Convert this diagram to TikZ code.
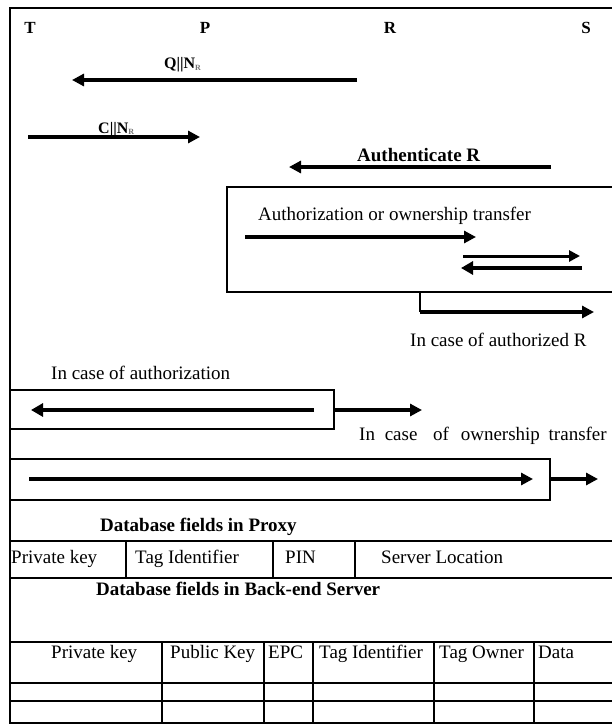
\documentclass[tikz,border=0pt]{standalone}
\usepackage{fontspec}
\setmainfont{Liberation Serif}
\usetikzlibrary{arrows.meta}
\newcommand\subR{\raisebox{-1.5pt}{\fontsize{8}{8}\selectfont\color{black!55}R}}
\begin{document}
\begin{tikzpicture}[x=1pt,y=-1pt,
  frameline/.style={line width=1.3pt,black},
  thinline/.style={line width=1.1pt,black},
  msg/.style={line width=3.4pt,-{Triangle[length=12pt,width=12pt]}},
  msgthin/.style={line width=3pt,-{Triangle[length=11pt,width=11pt]}},
  msgthick/.style={line width=4.4pt,-{Triangle[length=12pt,width=13pt]}},
  lbl/.style={inner sep=0pt,anchor=base west,font=\fontsize{19}{21}\selectfont},
  blbl/.style={inner sep=0pt,anchor=base west,font=\fontsize{19}{21}\selectfont\bfseries},
  party/.style={inner sep=0pt,anchor=base,font=\fontsize{17}{19}\selectfont\bfseries},
  nonce/.style={inner sep=0pt,anchor=base west,font=\fontsize{16}{18}\selectfont\bfseries}]
\useasboundingbox (0,0) rectangle (612,725);

% outer frame
\draw[frameline] (612,8) -- (10,8) -- (10,723) -- (612,723);

% parties
\node[party] (T) at (30,34) {T};
\node[party] (P) at (205,34) {P};
\node[party] (R) at (390,34) {R};
\node[party] (S) at (586,34) {S};

% Q||N_R
\node[nonce] (qlab) at (164,69) {Q\textbar\textbar N\subR};
\coordinate (q1) at (357,80); \coordinate (q2) at (72,80);
\draw[msg] (q1) -- (q2);

% C||N_R
\node[nonce] (clab) at (98,133) {C\textbar\textbar N\subR};
\coordinate (c1) at (28,137); \coordinate (c2) at (200,137);
\draw[msg] (c1) -- (c2);

% Authenticate R
\node[blbl] (alab) at (357,161) {Authenticate R};
\coordinate (a1) at (551,167); \coordinate (a2) at (289,167);
\draw[msg] (a1) -- (a2);

% authorization box
\draw[thinline] (612,187) -- (227,187) -- (227,292) -- (612,292);
\node[lbl] (olab) at (258,220) {Authorization or ownership transfer};
\coordinate (o1) at (245,237); \coordinate (o2) at (476,237);
\draw[msg] (o1) -- (o2);
\coordinate (d1) at (463,256); \coordinate (d2) at (580,256);
\draw[msgthin] (d1) -- (d2);
\coordinate (e1) at (582,268); \coordinate (e2) at (461,268);
\draw[msgthick] (e1) -- (e2);

% in case of authorized R
\coordinate (b0) at (420,292); \coordinate (b1) at (420,312); \coordinate (b2) at (594,312);
\draw[thinline] (b0) -- (b1);
\draw[msg] (b1) -- (b2);
\node[lbl] (rlab) at (410,346) {In case of authorized R};

% in case of authorization
\node[lbl] (zlab) at (51,379) {In case of authorization};
\draw[thinline] (10,390) -- (334,390) -- (334,429) -- (10,429);
\coordinate (f1) at (314,410); \coordinate (f2) at (31,410);
\draw[msgthick] (f1) -- (f2);
\coordinate (g1) at (334,410); \coordinate (g2) at (422,410);
\draw[msg] (g1) -- (g2);

% in case of ownership transfer
\node[lbl] (wlab) at (359,440) {In\hspace{5pt} case\hspace{11pt} of\hspace{7pt} ownership\hspace{4pt} transfer};
\draw[thinline] (10,459) -- (550,459) -- (550,500) -- (10,500);
\coordinate (h1) at (29,479); \coordinate (h2) at (533,479);
\draw[msg] (h1) -- (h2);
\coordinate (k1) at (550,479); \coordinate (k2) at (598,479);
\draw[msg] (k1) -- (k2);

% proxy database
\node[blbl] (pdb) at (100,531) {Database fields in Proxy};
\draw[thinline] (10,541) -- (612,541);
\draw[thinline] (10,578) -- (612,578);
\foreach \xx in {126,273,355} \draw[thinline] (\xx,541) -- (\xx,578);
\node[lbl] (p1) at (11,563) {Private key};
\node[lbl] (p2) at (135,563) {Tag Identifier};
\node[lbl] (p3) at (285,563) {PIN};
\node[lbl] (p4) at (381,563) {Server Location};

% back-end database
\node[blbl] (sdb) at (96,595) {Database fields in Back-end Server};
\draw[thinline] (10,642) -- (612,642);
\draw[thinline] (10,683) -- (612,683);
\draw[thinline] (10,701) -- (612,701);
\foreach \xx in {162,264,313,434,534} \draw[thinline] (\xx,642) -- (\xx,723);
\node[lbl] (s1) at (51,658) {Private key};
\node[lbl] (s2) at (170,658) {Public Key};
\node[lbl] (s3) at (268,658) {EPC};
\node[lbl] (s4) at (319,658) {Tag Identifier};
\node[lbl] (s5) at (439,658) {Tag Owner};
\node[lbl] (s6) at (538,658) {Data};
\end{tikzpicture}
\end{document}
